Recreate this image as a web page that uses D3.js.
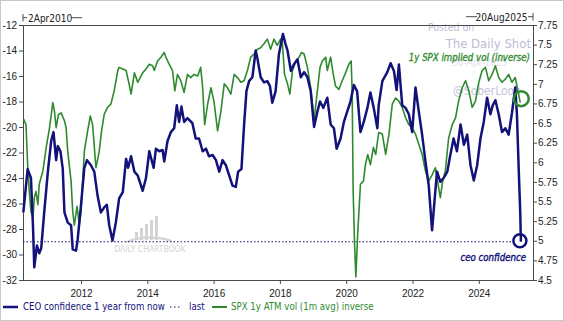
<!DOCTYPE html>
<html><head><meta charset="utf-8">
<script src="https://cdn.jsdelivr.net/npm/d3@7"></script>
<style>
html,body{margin:0;padding:0;background:#fff;}
svg{display:block;font-family:"DejaVu Sans Condensed","DejaVu Sans",sans-serif;font-stretch:condensed;}
</style></head>
<body><svg id="c" width="564" height="321"></svg>
<script>
// ---- data ----
const ceoDates = [2010.26,2010.39,2010.49,2010.55,2010.59,2010.67,2010.74,2010.80,2010.89,2011.00,2011.10,2011.17,2011.25,2011.30,2011.38,2011.45,2011.50,2011.60,2011.70,2011.75,2011.85,2011.90,2012.00,2012.10,2012.18,2012.30,2012.40,2012.50,2012.60,2012.70,2012.78,2012.85,2012.95,2013.05,2013.15,2013.26,2013.36,2013.42,2013.51,2013.61,2013.71,2013.86,2013.96,2014.06,2014.19,2014.26,2014.36,2014.46,2014.51,2014.61,2014.71,2014.81,2014.89,2014.96,2015.03,2015.11,2015.21,2015.36,2015.46,2015.56,2015.67,2015.77,2015.86,2015.97,2016.07,2016.17,2016.27,2016.37,2016.47,2016.57,2016.67,2016.74,2016.84,2016.92,2016.99,2017.07,2017.17,2017.27,2017.32,2017.42,2017.52,2017.62,2017.70,2017.77,2017.87,2017.97,2018.09,2018.17,2018.23,2018.33,2018.42,2018.53,2018.63,2018.73,2018.83,2018.93,2019.03,2019.13,2019.21,2019.31,2019.43,2019.53,2019.63,2019.71,2019.83,2019.93,2020.03,2020.13,2020.23,2020.33,2020.43,2020.53,2020.64,2020.73,2020.83,2020.94,2020.98,2021.09,2021.24,2021.34,2021.44,2021.52,2021.59,2021.69,2021.79,2021.89,2021.99,2022.09,2022.19,2022.29,2022.39,2022.49,2022.59,2022.67,2022.74,2022.84,2022.94,2023.05,2023.14,2023.24,2023.34,2023.45,2023.55,2023.65,2023.75,2023.85,2023.95,2024.05,2024.15,2024.25,2024.35,2024.42,2024.50,2024.60,2024.70,2024.80,2024.90,2025.00,2025.10,2025.15,2025.20,2025.25,2025.27];
const ceoValues = [-26.7,-23.3,-24.0,-27.7,-31.0,-29.3,-29.9,-29.5,-26.7,-23.5,-21.1,-20.4,-22.6,-21.5,-21.9,-23.3,-26.7,-27.5,-27.7,-29.6,-29.7,-28.8,-26.1,-23.2,-22.6,-23.0,-23.5,-25.4,-26.7,-26.3,-26.1,-27.7,-28.9,-27.5,-25.6,-25.1,-22.5,-23.2,-22.3,-23.5,-23.8,-25.0,-24.0,-21.9,-23.2,-21.7,-21.9,-21.8,-22.7,-21.1,-20.4,-20.1,-18.3,-19.6,-18.4,-19.6,-19.3,-19.7,-20.9,-20.9,-21.9,-21.7,-22.3,-22.2,-22.6,-23.5,-22.6,-23.0,-23.8,-24.6,-24.7,-23.5,-23.3,-19.8,-17.2,-16.4,-16.1,-14.0,-14.6,-16.1,-16.5,-16.4,-16.8,-18.1,-17.2,-14.3,-12.7,-13.5,-14.0,-15.6,-15.1,-14.7,-16.1,-15.7,-16.1,-17.2,-20.0,-18.8,-18.0,-18.5,-17.7,-19.8,-20.1,-21.7,-20.9,-19.6,-18.8,-18.0,-16.7,-17.2,-20.4,-19.6,-18.5,-17.3,-18.5,-20.1,-18.3,-16.4,-15.7,-15.0,-15.6,-17.1,-15.1,-18.3,-18.5,-19.0,-20.4,-16.9,-18.8,-20.6,-22.7,-24.6,-28.1,-25.6,-23.5,-24.3,-24.0,-23.5,-22.2,-20.9,-21.9,-19.8,-21.4,-20.6,-23.0,-24.2,-23.0,-20.9,-19.6,-17.7,-19.0,-18.3,-17.9,-19.0,-20.4,-20.1,-20.6,-18.9,-16.9,-19.0,-23.0,-26.7,-29.0];
const volDates = [2010.27,2010.34,2010.39,2010.44,2010.49,2010.55,2010.59,2010.64,2010.70,2010.74,2010.85,2010.95,2011.05,2011.15,2011.20,2011.25,2011.32,2011.40,2011.50,2011.55,2011.60,2011.70,2011.75,2011.80,2011.88,2011.95,2012.00,2012.10,2012.20,2012.28,2012.35,2012.45,2012.55,2012.62,2012.70,2012.80,2012.90,2013.00,2013.11,2013.15,2013.26,2013.36,2013.45,2013.51,2013.61,2013.71,2013.86,2013.96,2014.06,2014.16,2014.21,2014.31,2014.41,2014.51,2014.56,2014.66,2014.76,2014.83,2014.91,2015.01,2015.11,2015.21,2015.31,2015.41,2015.52,2015.61,2015.67,2015.73,2015.82,2015.92,2016.01,2016.12,2016.22,2016.32,2016.42,2016.52,2016.62,2016.72,2016.82,2016.92,2017.02,2017.12,2017.22,2017.32,2017.42,2017.52,2017.62,2017.72,2017.82,2017.92,2018.02,2018.07,2018.14,2018.23,2018.30,2018.38,2018.48,2018.58,2018.65,2018.73,2018.83,2018.93,2019.03,2019.13,2019.21,2019.28,2019.38,2019.43,2019.53,2019.61,2019.68,2019.78,2019.88,2019.98,2020.08,2020.15,2020.18,2020.21,2020.25,2020.29,2020.35,2020.43,2020.52,2020.58,2020.65,2020.73,2020.82,2020.89,2020.98,2021.09,2021.19,2021.29,2021.39,2021.49,2021.59,2021.69,2021.79,2021.89,2021.99,2022.09,2022.19,2022.29,2022.39,2022.49,2022.59,2022.69,2022.79,2022.84,2022.91,2022.99,2023.09,2023.20,2023.30,2023.39,2023.50,2023.60,2023.70,2023.80,2023.90,2024.00,2024.10,2024.20,2024.30,2024.40,2024.50,2024.60,2024.70,2024.80,2024.90,2025.00,2025.10,2025.18,2025.25];
const volValues = [6.55,6.48,5.97,5.63,5.37,5.29,5.55,5.63,5.46,5.72,5.89,6.19,6.44,6.76,6.65,6.44,6.61,6.63,6.53,6.44,6.14,5.76,5.37,5.20,5.44,5.20,5.37,6.14,6.40,6.59,6.48,5.93,6.14,6.40,6.61,6.70,6.74,6.91,7.17,7.21,7.19,7.17,7.00,6.87,7.14,7.02,7.14,7.19,7.25,7.23,7.17,7.29,7.34,7.40,7.34,7.25,7.17,6.91,7.12,7.04,6.89,7.12,7.08,7.12,7.10,7.21,6.95,6.48,6.74,6.95,6.78,6.40,6.65,7.00,6.95,6.87,7.12,7.08,7.02,7.04,7.17,7.34,7.38,7.44,7.46,7.51,7.57,7.44,7.57,7.49,7.57,7.55,7.12,7.00,6.87,7.17,7.29,7.34,7.40,7.38,7.21,6.95,6.53,6.91,7.21,7.29,7.34,7.17,7.34,7.12,6.97,6.93,7.04,7.14,7.25,7.29,6.91,5.63,4.99,4.54,5.12,5.72,5.76,5.97,6.10,5.97,6.19,6.10,6.38,6.36,6.10,6.36,6.74,6.82,6.78,6.70,6.57,6.48,6.44,6.36,6.23,6.10,5.89,5.76,5.84,5.93,5.67,5.55,5.76,5.89,6.31,6.48,6.57,6.78,6.95,7.04,6.91,6.70,6.78,7.02,7.17,7.21,7.04,7.12,7.23,7.08,7.02,7.06,7.12,7.02,7.08,6.91,6.76];
const lastValue = -29;
const xTicks = [2012,2014,2016,2018,2020,2022,2024];
const leftTicks = [-32,-30,-28,-26,-24,-22,-20,-18,-16,-14,-12];
const rightTicks = [4.5,4.75,5,5.25,5.5,5.75,6,6.25,6.5,6.75,7,7.25,7.5,7.75];
const startLabel = "2Apr2010", endLabel = "20Aug2025";
const xDomain = [2010.25, 2025.635];
const legendLabels = ["CEO confidence 1 year from now","last","SPX 1y ATM vol (1m avg) inverse"];

// ---- drawing ----
const NAVY = "#12127a", GREEN = "#2f8a2f", AX = "#4a4a4a";
const svg = d3.select("#c");
const L = 23, R = 533, T = 25, B = 280;
const x = d3.scaleLinear().domain(xDomain).range([L, R]);
const yL = d3.scaleLinear().domain([-32, -12]).range([B, T]);
const yR = d3.scaleLinear().domain([4.5, 7.75]).range([B, T]);

svg.append("rect").attr("x",0.5).attr("y",0.5).attr("width",563).attr("height",320)
  .attr("fill","#fff").attr("stroke","#c8c8c8");

// watermarks
const wm = svg.append("g").attr("fill","#bcbcd8");
wm.append("text").attr("x",428).attr("y",31).attr("font-size",10.5).text("Posted on");
wm.append("text").attr("x",531).attr("y",48).attr("text-anchor","end").attr("font-size",13).text("The Daily Shot");
wm.append("text").attr("x",452).attr("y",66).attr("font-size",10).attr("fill","#e2e2ee").text("30-Apr-2025");
wm.append("text").attr("x",453).attr("y",95).attr("font-size",12).attr("fill","#c4c4dc").text("@SoberLook");
const dc = svg.append("g").attr("fill","#d4d4d4");
[[135,232,3,8],[140,228,3,12],[145,224,3,16],[150,220,3,20],[155,216,3,24]].forEach(b=>{
  dc.append("rect").attr("x",b[0]).attr("y",b[1]).attr("width",b[2]).attr("height",b[3]);
});
dc.append("path").attr("d","M126,241 Q148,232 172,240 L172,242 Q148,235 126,243Z");
dc.append("text").attr("x",150).attr("y",252).attr("text-anchor","middle").attr("font-size",8.5).text("DAILY CHARTBOOK");

// frame
svg.append("rect").attr("x",L).attr("y",T).attr("width",R-L).attr("height",B-T)
  .attr("fill","none").attr("stroke",AX).attr("stroke-width",1).attr("shape-rendering","crispEdges");

// axes
const fs = 10;
const ax1 = svg.append("g").attr("transform",`translate(${L},0)`)
  .call(d3.axisLeft(yL).tickValues(leftTicks).tickSize(4).tickSizeOuter(0).tickPadding(2).tickFormat(d=>String(d)));
const ax2 = svg.append("g").attr("transform",`translate(${R},0)`)
  .call(d3.axisRight(yR).tickValues(rightTicks).tickSize(4).tickSizeOuter(0).tickPadding(1).tickFormat(d=>String(d)));
const ax3 = svg.append("g").attr("transform",`translate(0,${B})`)
  .call(d3.axisBottom(x).tickValues(xTicks).tickSize(4).tickSizeOuter(0).tickPadding(6).tickFormat(d3.format("d")));
[ax1,ax2,ax3].forEach(a=>{
  a.select(".domain").attr("stroke",AX);
  a.selectAll(".tick line").attr("stroke",AX);
  a.selectAll("text").attr("font-family",null).attr("font-size",fs).attr("fill","#222");
});

// top date labels
const tg = svg.append("g").attr("stroke",AX).attr("fill","none");
tg.append("line").attr("x1",L).attr("x2",L).attr("y1",14).attr("y2",21.5);
tg.append("line").attr("x1",L).attr("x2",27).attr("y1",17.7).attr("y2",17.7);
tg.append("line").attr("x1",71).attr("x2",82).attr("y1",17.7).attr("y2",17.7);
tg.append("line").attr("x1",R).attr("x2",R).attr("y1",13).attr("y2",20.5);
tg.append("line").attr("x1",466).attr("x2",477).attr("y1",16.7).attr("y2",16.7);
tg.append("line").attr("x1",528).attr("x2",R).attr("y1",16.7).attr("y2",16.7);
svg.append("text").attr("x",28).attr("y",21.5).attr("font-size",fs).attr("fill","#222").text(startLabel);
svg.append("text").attr("x",527.5).attr("y",20.5).attr("text-anchor","end").attr("font-size",fs).attr("fill","#222").text(endLabel);

// last dotted line
svg.append("line").attr("x1",L).attr("x2",x(ceoDates[ceoDates.length-1])-6)
  .attr("y1",yL(lastValue)).attr("y2",yL(lastValue))
  .attr("stroke",NAVY).attr("stroke-width",1).attr("stroke-dasharray","1.5,2");

// lines
const volData = volDates.map((d,i)=>[d, volValues[i]]);
const ceoData = ceoDates.map((d,i)=>[d, ceoValues[i]]);
svg.append("path").datum(volData)
  .attr("d", d3.line().x(d=>x(d[0])).y(d=>yR(d[1])))
  .attr("fill","none").attr("stroke",GREEN).attr("stroke-width",1.6).attr("stroke-linejoin","round");
svg.append("path").datum(ceoData)
  .attr("d", d3.line().x(d=>x(d[0])).y(d=>yL(d[1])))
  .attr("fill","none").attr("stroke",NAVY).attr("stroke-width",2.5).attr("stroke-linejoin","round");

// circles on last points
const lv = volData[volData.length-1], lc = ceoData[ceoData.length-1];
svg.append("circle").attr("cx",x(lv[0])+1).attr("cy",yR(lv[1])-4).attr("r",7.5)
  .attr("fill","none").attr("stroke",GREEN).attr("stroke-width",2.5);
svg.append("circle").attr("cx",x(lc[0])-1).attr("cy",yL(lc[1])-1).attr("r",6.5)
  .attr("fill","none").attr("stroke",NAVY).attr("stroke-width",2.5);

// annotations
svg.append("text").attr("x",530).attr("y",61).attr("text-anchor","end").attr("font-size",9.6)
  .attr("font-style","italic").attr("fill",GREEN).attr("stroke",GREEN).attr("stroke-width",0.3)
  .text("1y SPX implied vol (inverse)");
svg.append("text").attr("x",526).attr("y",261).attr("text-anchor","end").attr("font-size",9.6)
  .attr("font-style","italic").attr("fill",NAVY).attr("stroke",NAVY).attr("stroke-width",0.35)
  .text("ceo confidence");

// legend
const ly = 307;
const lfs = 9.6;
const lg = svg.append("g").attr("font-size",lfs);
lg.append("line").attr("x1",3).attr("x2",18).attr("y1",ly).attr("y2",ly).attr("stroke",NAVY).attr("stroke-width",2.5);
lg.append("text").attr("x",23).attr("y",ly).attr("dy","0.35em").attr("fill",NAVY).text(legendLabels[0]);
lg.append("line").attr("x1",170).attr("x2",181).attr("y1",ly).attr("y2",ly).attr("stroke",NAVY).attr("stroke-width",1).attr("stroke-dasharray","1.5,2.5");
lg.append("text").attr("x",189).attr("y",ly).attr("dy","0.35em").attr("fill",NAVY).text(legendLabels[1]);
lg.append("line").attr("x1",212).attr("x2",227).attr("y1",ly).attr("y2",ly).attr("stroke",GREEN).attr("stroke-width",2);
lg.append("text").attr("x",231).attr("y",ly).attr("dy","0.35em").attr("fill",GREEN).text(legendLabels[2]);
</script></body></html>
